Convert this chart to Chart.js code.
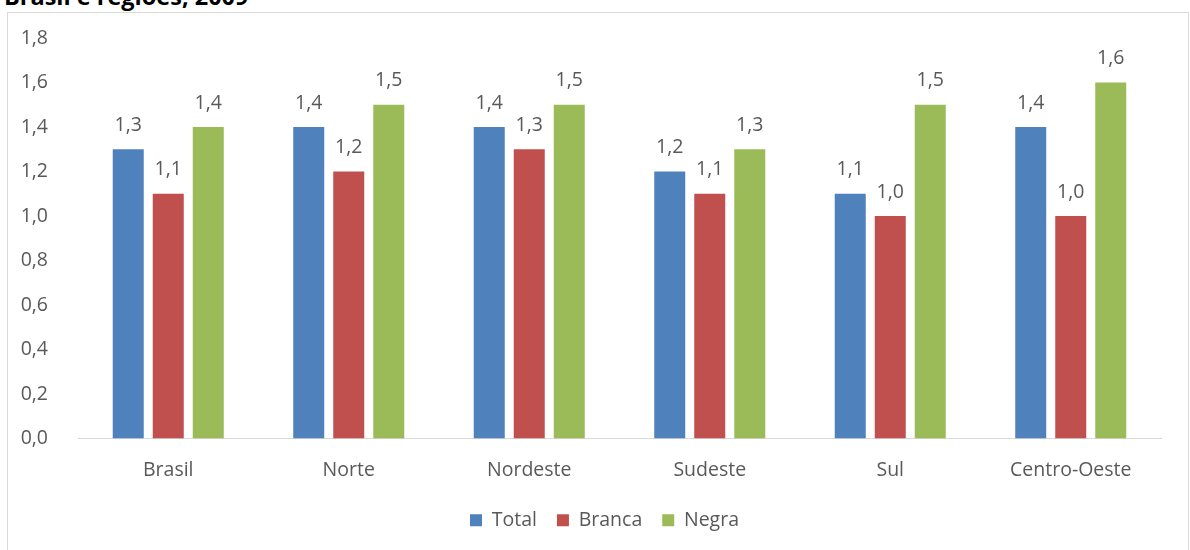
<!DOCTYPE html>
<html>
<head>
<meta charset="utf-8">
<script src="https://cdn.jsdelivr.net/npm/chart.js@4/dist/chart.umd.min.js"></script>
<style>
html,body{margin:0;padding:0;background:#fff;width:1190px;height:550px;overflow:hidden;}
#title{position:absolute;left:4px;top:-15px;font-family:"Open Sans",Lato,sans-serif;font-weight:bold;font-size:23.5px;line-height:23px;color:#000;white-space:nowrap;}
#frame{position:absolute;left:7px;top:12px;width:1182px;height:560px;border:1px solid #d9d9d9;box-sizing:border-box;}
#wrap{position:absolute;left:0;top:0;width:1190px;height:550px;}
</style>
</head>
<body>
<div id="title">Brasil e regiões, 2009</div>
<div id="frame"></div>
<div id="wrap"><canvas id="c" width="1190" height="550"></canvas></div>
<script>
const categories = ["Brasil", "Norte", "Nordeste", "Sudeste", "Sul", "Centro-Oeste"];
const seriesNames = ["Total", "Branca", "Negra"];
const total  = [1.3, 1.4, 1.4, 1.2, 1.1, 1.4];
const branca = [1.1, 1.2, 1.3, 1.1, 1.0, 1.0];
const negra  = [1.4, 1.5, 1.5, 1.3, 1.5, 1.6];
const yTicks = [0, 0.2, 0.4, 0.6, 0.8, 1.0, 1.2, 1.4, 1.6, 1.8];

const colors = ["#4F81BD", "#C0504D", "#9BBB59"];
const fmt = v => v.toFixed(1).replace('.', ',');
const FONT = '"Open Sans", Lato, sans-serif';
const FSIZE = 19.5;
const TXT = '#595959';

const labelPlugin = {
  id: 'valueLabels',
  afterLayout(chart) {
    if (chart.legend) chart.legend.left += 48;
  },
  afterDatasetsDraw(chart) {
    const ctx = chart.ctx;
    ctx.save();
    ctx.font = FSIZE + 'px ' + FONT;
    ctx.fillStyle = TXT;
    ctx.textAlign = 'center';
    ctx.textBaseline = 'middle';
    chart.data.datasets.forEach((ds, i) => {
      const meta = chart.getDatasetMeta(i);
      meta.data.forEach((bar, j) => {
        ctx.fillText(fmt(ds.data[j]), bar.x, bar.y - 24);
      });
    });
    ctx.restore();
  }
};

const seriesData = [total, branca, negra];
new Chart(document.getElementById('c'), {
  type: 'bar',
  data: {
    labels: categories,
    datasets: seriesNames.map((n, i) => ({
      label: n,
      data: seriesData[i],
      backgroundColor: colors[i],
      borderWidth: 0,
      categoryPercentage: 0.665,
      barPercentage: 0.775
    }))
  },
  options: {
    responsive: false,
    animation: false,
    layout: { padding: { top: 38, right: 29, bottom: 10, left: 0 } },
    plugins: {
      tooltip: { enabled: false },
      legend: {
        position: 'bottom',
        labels: {
          font: { family: FONT, size: FSIZE },
          color: TXT,
          boxWidth: 12,
          boxHeight: 12,
          padding: 20
        }
      }
    },
    scales: {
      x: {
        grid: { display: false },
        border: { display: true, color: '#d9d9d9', width: 1 },
        ticks: { font: { family: FONT, size: FSIZE }, color: TXT, padding: 12 },
        afterFit(s) { s.height = 52; }
      },
      y: {
        min: 0, max: 1.8,
        grid: { display: false },
        border: { display: false },
        afterBuildTicks(s) { s.ticks = yTicks.map(v => ({ value: v })); },
        ticks: { font: { family: FONT, size: FSIZE }, color: TXT, padding: 22, callback: v => fmt(v) },
        afterFit(s) { s.width = 78; }
      }
    }
  },
  plugins: [labelPlugin]
});
</script>
</body>
</html>
